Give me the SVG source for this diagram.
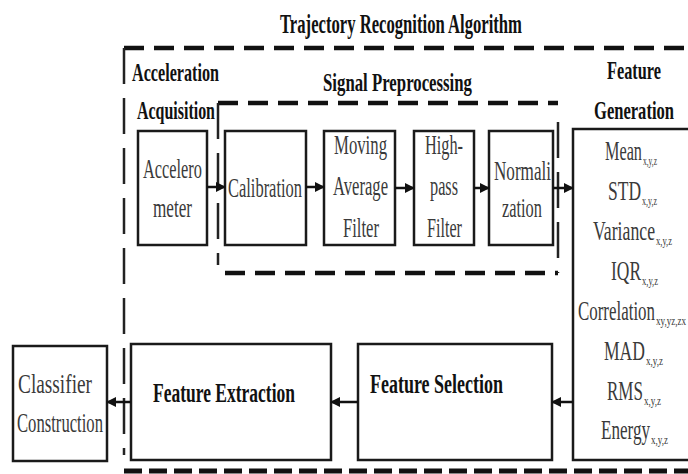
<svg xmlns="http://www.w3.org/2000/svg" width="688" height="474" viewBox="0 0 688 474">
<style>
  .box { fill: #fff; stroke: #1a1a1a; stroke-width: 2.5; }
  .t { font-family: "Liberation Serif", "Times New Roman", serif; font-size: 27px; fill: #3a3a3a; }
  .b { font-family: "Liberation Serif", "Times New Roman", serif; font-size: 27px; font-weight: bold; fill: #111; }
  .sub { font-family: "Liberation Serif", "Times New Roman", serif; font-size: 12px; fill: #3a3a3a; }
  .dashH { fill: none; stroke: #111; stroke-width: 4.5; stroke-dasharray: 20 10; }
  .dashV { fill: none; stroke: #222; stroke-width: 2.5; stroke-dasharray: 36 14; }
  .conn { fill: none; stroke: #111; stroke-width: 2.5; }
</style>
<defs>
  <marker id="ah" viewBox="0 0 10 10" refX="9" refY="5" markerWidth="4" markerHeight="4.4" orient="auto" markerUnits="strokeWidth">
    <path d="M0,0 L10,5 L0,10 Z" fill="#111"/>
  </marker>
</defs>
<rect width="688" height="474" fill="#fff"/>

<g id="trajectory-recognition-algorithm">
  <line class="dashH" x1="124" y1="48" x2="700" y2="48"/>
  <line class="dashV" x1="124" y1="48" x2="124" y2="455"/>
  <line class="dashH" x1="124" y1="471" x2="700" y2="471" style="stroke-dasharray:18 7;stroke-width:5"/>
  <text class="b" x="280" y="33" textLength="242" lengthAdjust="spacingAndGlyphs">Trajectory Recognition Algorithm</text>
</g>

<g id="acceleration-acquisition">
  <text class="b" x="132" y="81" textLength="87" lengthAdjust="spacingAndGlyphs" style="font-size:25px">Acceleration</text>
  <text class="b" x="137" y="119" textLength="78" lengthAdjust="spacingAndGlyphs" style="font-size:25px">Acquisition</text>
</g>

<g id="signal-preprocessing">
  <line class="dashH" x1="218" y1="103" x2="558" y2="103"/>
  <line class="dashH" x1="225" y1="273" x2="558" y2="273"/>
  <line class="dashV" x1="218" y1="103" x2="218" y2="265"/>
  <line class="dashV" x1="558" y1="122" x2="558" y2="273"/>
  <text class="b" x="323" y="91" textLength="149" lengthAdjust="spacingAndGlyphs" style="font-size:25px">Signal Preprocessing</text>
</g>

<g id="accelerometer">
  <rect class="box" x="138" y="131" width="69" height="114"/>
  <text class="t" x="143" y="178" textLength="59" lengthAdjust="spacingAndGlyphs">Accelero</text>
  <text class="t" x="153" y="217" textLength="39" lengthAdjust="spacingAndGlyphs">meter</text>
</g>

<g id="calibration">
  <rect class="box" x="225" y="131" width="81" height="114"/>
  <text class="t" x="228" y="197" textLength="74" lengthAdjust="spacingAndGlyphs">Calibration</text>
</g>

<g id="moving-average-filter">
  <rect class="box" x="324" y="131" width="71" height="114"/>
  <text class="t" x="334" y="154" textLength="53" lengthAdjust="spacingAndGlyphs">Moving</text>
  <text class="t" x="333" y="195" textLength="55" lengthAdjust="spacingAndGlyphs">Average</text>
  <text class="t" x="343" y="237" textLength="36" lengthAdjust="spacingAndGlyphs">Filter</text>
</g>

<g id="high-pass-filter">
  <rect class="box" x="414" y="131" width="60" height="114"/>
  <text class="t" x="425" y="154" textLength="38" lengthAdjust="spacingAndGlyphs">High-</text>
  <text class="t" x="430" y="195" textLength="28" lengthAdjust="spacingAndGlyphs">pass</text>
  <text class="t" x="427" y="237" textLength="35" lengthAdjust="spacingAndGlyphs">Filter</text>
</g>

<g id="normalization">
  <rect class="box" x="489" y="131" width="64" height="114"/>
  <text class="t" x="494" y="180" textLength="57" lengthAdjust="spacingAndGlyphs">Normali</text>
  <text class="t" x="502" y="217" textLength="40" lengthAdjust="spacingAndGlyphs">zation</text>
</g>

<g id="feature-generation">
  <text class="b" x="607" y="79" textLength="54" lengthAdjust="spacingAndGlyphs" style="font-size:25px">Feature</text>
  <text class="b" x="594" y="119" textLength="80" lengthAdjust="spacingAndGlyphs" style="font-size:25px">Generation</text>
  <rect class="box" x="573" y="129" width="130" height="331"/>
  <text class="t" x="605" y="160" textLength="37" lengthAdjust="spacingAndGlyphs">Mean</text>
  <text class="sub" x="643" y="165" textLength="14" lengthAdjust="spacingAndGlyphs">x,y,z</text>
  <text class="t" x="608" y="200" textLength="33" lengthAdjust="spacingAndGlyphs">STD</text>
  <text class="sub" x="642" y="205" textLength="15" lengthAdjust="spacingAndGlyphs">x,y,z</text>
  <text class="t" x="593" y="240" textLength="62" lengthAdjust="spacingAndGlyphs">Variance</text>
  <text class="sub" x="656" y="245" textLength="16" lengthAdjust="spacingAndGlyphs">x,y,z</text>
  <text class="t" x="611" y="280" textLength="30" lengthAdjust="spacingAndGlyphs">IQR</text>
  <text class="sub" x="642" y="285" textLength="16" lengthAdjust="spacingAndGlyphs">x,y,z</text>
  <text class="t" x="578" y="320" textLength="77" lengthAdjust="spacingAndGlyphs">Correlation</text>
  <text class="sub" x="656" y="325" textLength="30" lengthAdjust="spacingAndGlyphs">xy,yz,zx</text>
  <text class="t" x="604" y="360" textLength="41" lengthAdjust="spacingAndGlyphs">MAD</text>
  <text class="sub" x="646" y="365" textLength="17" lengthAdjust="spacingAndGlyphs">x,y,z</text>
  <text class="t" x="607" y="400" textLength="36" lengthAdjust="spacingAndGlyphs">RMS</text>
  <text class="sub" x="644" y="405" textLength="17" lengthAdjust="spacingAndGlyphs">x,y,z</text>
  <text class="t" x="601" y="439" textLength="49" lengthAdjust="spacingAndGlyphs">Energy</text>
  <text class="sub" x="651" y="444" textLength="17" lengthAdjust="spacingAndGlyphs">x,y,z</text>
</g>

<g id="feature-selection">
  <rect class="box" x="358" y="344" width="194" height="116"/>
  <text class="b" x="370" y="393" textLength="133" lengthAdjust="spacingAndGlyphs">Feature Selection</text>
</g>

<g id="feature-extraction">
  <rect class="box" x="131" y="344" width="200" height="116"/>
  <text class="b" x="153" y="402" textLength="142" lengthAdjust="spacingAndGlyphs">Feature Extraction</text>
</g>

<g id="classifier-construction">
  <rect class="box" x="13" y="346" width="94" height="115"/>
  <text class="t" x="18" y="393" textLength="74" lengthAdjust="spacingAndGlyphs">Classifier</text>
  <text class="t" x="17" y="432" textLength="86" lengthAdjust="spacingAndGlyphs">Construction</text>
</g>

<g id="connectors">
  <line class="conn" x1="207" y1="187" x2="225" y2="187" marker-end="url(#ah)"/>
  <line class="conn" x1="306" y1="187" x2="324" y2="187" marker-end="url(#ah)"/>
  <line class="conn" x1="395" y1="188" x2="414" y2="188" marker-end="url(#ah)"/>
  <line class="conn" x1="474" y1="188" x2="489" y2="188" marker-end="url(#ah)"/>
  <line class="conn" x1="553" y1="188" x2="573" y2="188" marker-end="url(#ah)"/>
  <line class="conn" x1="573" y1="402" x2="552" y2="402" marker-end="url(#ah)"/>
  <line class="conn" x1="358" y1="402" x2="331" y2="402" marker-end="url(#ah)"/>
  <line class="conn" x1="131" y1="402" x2="107" y2="402" marker-end="url(#ah)"/>
</g>
</svg>
